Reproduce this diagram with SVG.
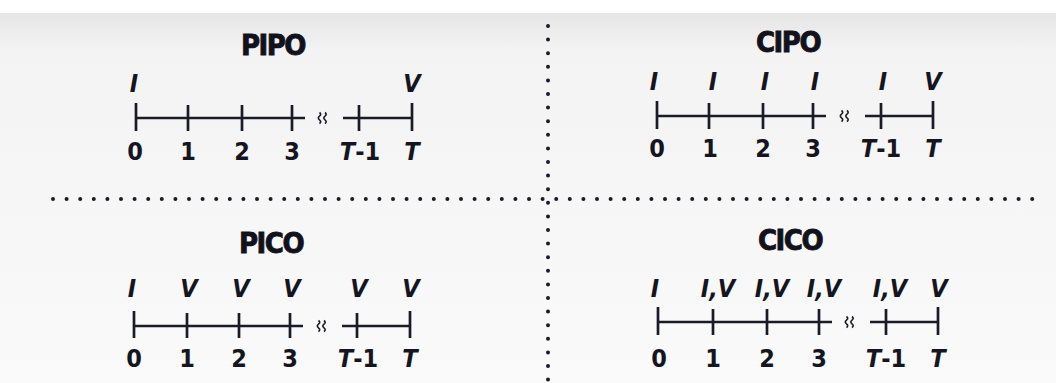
<svg xmlns="http://www.w3.org/2000/svg" width="1056" height="383" viewBox="0 0 1056 383">
<defs>
<linearGradient id="bg" x1="0" y1="0" x2="0" y2="1">
<stop offset="0" stop-color="#e6e6e6"/>
<stop offset="0.1" stop-color="#f3f3f3"/>
<stop offset="1" stop-color="#fafafa"/>
</linearGradient>
<g id="brk">
<path d="M-3.5,-5.5 q2.4,1.8 0,3.7 q-2.4,1.8 0,3.7 q2.4,1.8 0,3.7 M2,-5.5 q2.4,1.8 0,3.7 q-2.4,1.8 0,3.7 q2.4,1.8 0,3.7" fill="none" stroke="#1b1b28" stroke-width="1.6"/>
</g>
</defs>
<style>
.axis{fill:none;stroke:#1b1b28;stroke-width:2.7;stroke-linecap:butt}
.dot{fill:none;stroke:#1b1b28;stroke-width:4;stroke-linecap:round;stroke-dasharray:0 13.6}
.title{font-family:"DejaVu Sans Condensed","Liberation Sans",sans-serif;font-weight:bold;font-size:29px;fill:#12121c;stroke:#12121c;stroke-width:0.8;text-anchor:middle;letter-spacing:-1.5px}
.num{font-family:"DejaVu Sans Condensed","Liberation Sans",sans-serif;font-weight:bold;font-size:25px;fill:#15151f;text-anchor:middle}
.it{font-family:"DejaVu Sans Condensed","Liberation Sans",sans-serif;font-weight:bold;font-style:italic;font-size:25px;fill:#15151f;text-anchor:middle}
</style>
<rect width="1056" height="383" fill="#ffffff"/>
<rect y="13" width="1056" height="370" fill="url(#bg)"/>

<g id="dividers">
<path class="dot" d="M548,26 V380"/>
<path class="dot" d="M53,199 H1040"/>
</g>

<g id="pipo">
<text class="title" x="273" y="55">PIPO</text>
<path class="axis" d="M136,118 H305 M343,118 H412 M136,103 V131 M188,105 V131 M242,105 V131 M292,105 V131 M359,105 V131 M412,103 V131"/>
<use href="#brk" x="323" y="118"/>
<text class="it" x="134" y="92">I</text>
<text class="it" x="412" y="92">V</text>
<text class="num" x="135" y="160">0</text>
<text class="num" x="188" y="160">1</text>
<text class="num" x="242" y="160">2</text>
<text class="num" x="292" y="160">3</text>
<text class="num" x="360" y="160"><tspan font-style="italic">T</tspan>-1</text>
<text class="it" x="412" y="160">T</text>
</g>

<g id="cipo">
<text class="title" x="788" y="52">CIPO</text>
<path class="axis" d="M657,116 H826 M865,116 H933 M657,101 V129 M709,103 V129 M763,103 V129 M813,103 V129 M881,103 V129 M933,101 V129"/>
<use href="#brk" x="845" y="116"/>
<text class="it" x="654" y="90">I</text>
<text class="it" x="713" y="90">I</text>
<text class="it" x="765" y="90">I</text>
<text class="it" x="815" y="90">I</text>
<text class="it" x="883" y="90">I</text>
<text class="it" x="933" y="90">V</text>
<text class="num" x="657" y="157">0</text>
<text class="num" x="710" y="157">1</text>
<text class="num" x="763" y="157">2</text>
<text class="num" x="813" y="157">3</text>
<text class="num" x="881" y="157"><tspan font-style="italic">T</tspan>-1</text>
<text class="it" x="933" y="157">T</text>
</g>

<g id="pico">
<text class="title" x="271" y="253">PICO</text>
<path class="axis" d="M134,326 H303 M342,326 H410 M134,311 V338 M187,313 V338 M239,313 V338 M290,313 V338 M357,313 V338 M410,311 V338"/>
<use href="#brk" x="322" y="326"/>
<text class="it" x="132" y="297">I</text>
<text class="it" x="189" y="297">V</text>
<text class="it" x="241" y="297">V</text>
<text class="it" x="292" y="297">V</text>
<text class="it" x="359" y="297">V</text>
<text class="it" x="411" y="297">V</text>
<text class="num" x="134" y="367">0</text>
<text class="num" x="187" y="367">1</text>
<text class="num" x="239" y="367">2</text>
<text class="num" x="290" y="367">3</text>
<text class="num" x="358" y="367"><tspan font-style="italic">T</tspan>-1</text>
<text class="it" x="410" y="367">T</text>
</g>

<g id="cico">
<text class="title" x="790" y="250">CICO</text>
<path class="axis" d="M658,322 H832 M870,322 H938 M658,307 V335 M713,309 V335 M767,309 V335 M819,309 V335 M886,309 V335 M938,307 V335"/>
<use href="#brk" x="850" y="322"/>
<text class="it" x="655" y="297">I</text>
<text class="it" x="718" y="297">I,V</text>
<text class="it" x="772" y="297">I,V</text>
<text class="it" x="824" y="297">I,V</text>
<text class="it" x="890" y="297">I,V</text>
<text class="it" x="939" y="297">V</text>
<text class="num" x="659" y="367">0</text>
<text class="num" x="713" y="367">1</text>
<text class="num" x="767" y="367">2</text>
<text class="num" x="819" y="367">3</text>
<text class="num" x="886" y="367"><tspan font-style="italic">T</tspan>-1</text>
<text class="it" x="938" y="367">T</text>
</g>
</svg>
